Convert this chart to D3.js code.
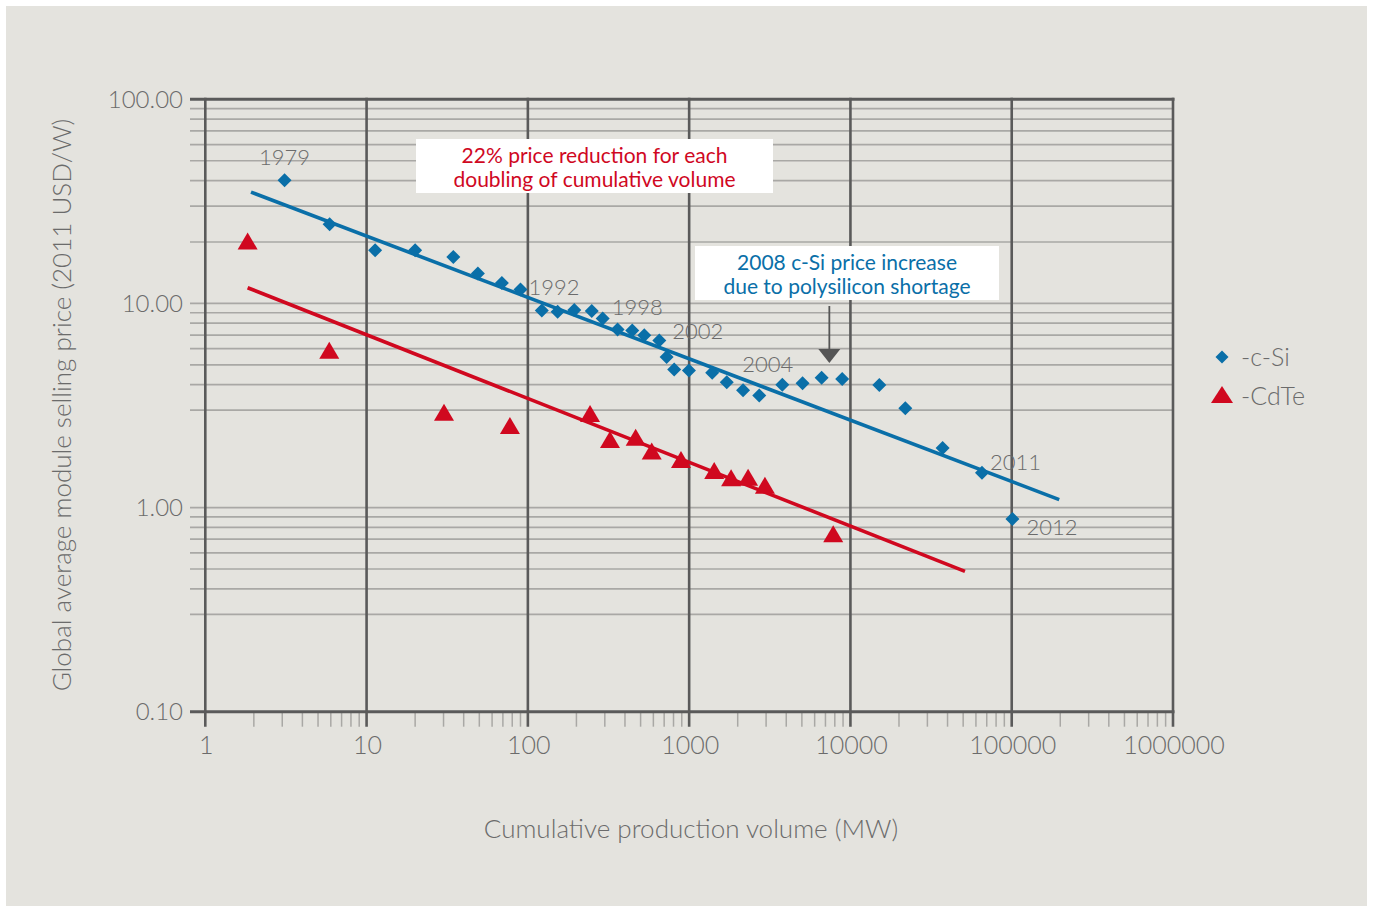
<!DOCTYPE html>
<html>
<head>
<meta charset="utf-8">
<script src="https://cdn.jsdelivr.net/npm/d3@7"></script>
<style>
  body { margin: 0; background: #fff; }
  text { font-family: Lato, "Open Sans", sans-serif; }
</style>
</head>
<body>
<div id="chart"></div>
<script>
// c-Si points: cumulative volume (MW), price (2011 USD/W)
var csiVolume = [3.1, 5.9, 11.3, 20, 34.5, 49, 69, 90, 122, 153, 194, 249, 291, 360, 444, 527, 653, 725, 808, 997,
  1390, 1710, 2160, 2720, 3780, 5050, 6630, 8890, 15100, 21900, 37300, 65400, 101000];
var csiPrice = [40.1, 24.4, 18.2, 18.2, 16.9, 14.0, 12.6, 11.7, 9.24, 9.1, 9.28, 9.17, 8.44, 7.46, 7.37, 6.99, 6.59, 5.46, 4.75, 4.69,
  4.57, 4.11, 3.76, 3.54, 4.0, 4.07, 4.32, 4.27, 3.98, 3.07, 1.96, 1.48, 0.88];

// CdTe points
var cdteVolume = [1.83, 5.87, 30.2, 77.4, 243, 323, 466, 586, 890, 1430, 1820, 2320, 2950, 7820];
var cdtePrice = [20.1, 5.87, 2.91, 2.51, 2.87, 2.14, 2.2, 1.88, 1.71, 1.51, 1.39, 1.4, 1.28, 0.74];

// fitted trend lines [start, end]
var csiTrendX = [1.92, 197000];
var csiTrendY = [35.1, 1.094];
var cdteTrendX = [1.83, 51300];
var cdteTrendY = [11.94, 0.487];

// year labels attached to c-Si points
var yearLabels = ["1979", "1992", "1998", "2002", "2004", "2011", "2012"];
var yearIndex = [0, 7, 12, 16, 24, 31, 32];

var yTickValues = [100, 10, 1, 0.1];
var yTickLabels = ["100.00", "10.00", "1.00", "0.10"];
var xTickValues = [1, 10, 100, 1000, 10000, 100000, 1000000];
var yMinorGrid = [20, 30, 40, 50, 60, 70, 80, 90, 10, 3, 4, 5, 6, 7, 8, 9, 1, 0.3, 0.4, 0.5, 0.6, 0.7, 0.8, 0.9];

var W = 1373, H = 908;
var blue = "#0a6fa8", red = "#d0081f", grey = "#6b6b6b", dark = "#5a5a5a", light = "#a9a8a5";

var svg = d3.select("#chart").append("svg")
  .attr("width", W).attr("height", H);

svg.append("rect").attr("width", W).attr("height", H).attr("fill", "#fff");
svg.append("rect").attr("x", 6).attr("y", 6).attr("width", 1361).attr("height", 900).attr("fill", "#e4e3de");

var x = d3.scaleLog().domain([1, 1e6]).range([205.3, 1173]);
var y = d3.scaleLog().domain([0.1, 100]).range([711.7, 99.3]);

// horizontal minor grid
svg.append("g").selectAll("line")
  .data(yMinorGrid).enter().append("line")
    .attr("x1", 190).attr("x2", x(1e6))
    .attr("y1", function(d) { return y(d); })
    .attr("y2", function(d) { return y(d); })
    .attr("stroke", light).attr("stroke-width", 1.7);

// minor x ticks
var xMinor = [];
for (var e = 0; e < 6; e++) {
  for (var k = 2; k <= 9; k++) xMinor.push(k * Math.pow(10, e));
}
svg.append("g").selectAll("line")
  .data(xMinor).enter().append("line")
    .attr("x1", function(d) { return x(d); })
    .attr("x2", function(d) { return x(d); })
    .attr("y1", y(0.1)).attr("y2", y(0.1) + 15)
    .attr("stroke", light).attr("stroke-width", 1.5);

// top border and x axis line
svg.append("g").selectAll("line")
  .data([100, 0.1]).enter().append("line")
    .attr("x1", 190).attr("x2", x(1e6) + 1.5)
    .attr("y1", function(d) { return y(d); })
    .attr("y2", function(d) { return y(d); })
    .attr("stroke", dark).attr("stroke-width", 3);

// vertical decade lines
svg.append("g").selectAll("line")
  .data(xTickValues).enter().append("line")
    .attr("x1", function(d) { return x(d); })
    .attr("x2", function(d) { return x(d); })
    .attr("y1", y(100) - 1.5).attr("y2", y(0.1) + 15)
    .attr("stroke", dark).attr("stroke-width", 2.6);

// y tick labels
svg.append("g").selectAll("text")
  .data(yTickValues).enter().append("text")
    .attr("x", 183)
    .attr("y", function(d) { return y(d) + 8.5; })
    .attr("text-anchor", "end")
    .attr("font-size", 24).attr("font-weight", 300)
    .attr("fill", grey)
    .text(function(d, i) { return yTickLabels[i]; });

// x tick labels
svg.append("g").selectAll("text")
  .data(xTickValues).enter().append("text")
    .attr("x", function(d) { return x(d) + 1; })
    .attr("y", 754)
    .attr("text-anchor", "middle")
    .attr("font-size", 25).attr("font-weight", 300)
    .attr("fill", grey)
    .text(function(d) { return d3.format("d")(d); });

// axis titles
svg.append("text")
  .attr("transform", "translate(71,405) rotate(-90)")
  .attr("text-anchor", "middle")
  .attr("font-size", 26).attr("font-weight", 300)
  .attr("fill", grey)
  .text("Global average module selling price (2011 USD/W)");

svg.append("text")
  .attr("x", 691).attr("y", 838)
  .attr("text-anchor", "middle")
  .attr("font-size", 26).attr("font-weight", 300)
  .attr("fill", grey)
  .text("Cumulative production volume (MW)");

// trend lines
var line = d3.line()
  .x(function(d) { return x(d[0]); })
  .y(function(d) { return y(d[1]); });

svg.append("path")
  .attr("d", line(d3.zip(csiTrendX, csiTrendY)))
  .attr("stroke", blue).attr("stroke-width", 3.6).attr("fill", "none");
svg.append("path")
  .attr("d", line(d3.zip(cdteTrendX, cdteTrendY)))
  .attr("stroke", red).attr("stroke-width", 3.6).attr("fill", "none");

// points
var diamond = "M0,-7L7,0L0,7L-7,0Z";
var triangle = "M0,-9L10,8L-10,8Z";

svg.append("g").selectAll("path")
  .data(d3.zip(csiVolume, csiPrice)).enter().append("path")
    .attr("d", diamond)
    .attr("transform", function(d) { return "translate(" + x(d[0]) + "," + y(d[1]) + ")"; })
    .attr("fill", blue);

svg.append("g").selectAll("path")
  .data(d3.zip(cdteVolume, cdtePrice)).enter().append("path")
    .attr("d", triangle)
    .attr("transform", function(d) { return "translate(" + x(d[0]) + "," + y(d[1]) + ")"; })
    .attr("fill", red);

// year labels
var labelDx = [0, 8, 9, 13, -40, 8, 14];
var labelDy = [-15, 5, -3, -1, -13, -3, 16];
var labelAnchor = ["middle", "start", "start", "start", "start", "start", "start"];
svg.append("g").selectAll("text")
  .data(yearLabels).enter().append("text")
    .attr("x", function(d, i) { return x(csiVolume[yearIndex[i]]) + labelDx[i]; })
    .attr("y", function(d, i) { return y(csiPrice[yearIndex[i]]) + labelDy[i]; })
    .attr("text-anchor", function(d, i) { return labelAnchor[i]; })
    .attr("font-size", 22).attr("font-weight", 300)
    .attr("fill", grey)
    .text(function(d) { return d; });

// annotation boxes
function note(x0, y0, w, h, lines, color) {
  svg.append("rect").attr("x", x0).attr("y", y0).attr("width", w).attr("height", h).attr("fill", "#fff");
  svg.append("g").selectAll("text")
    .data(lines).enter().append("text")
      .attr("x", x0 + w / 2)
      .attr("y", function(d, i) { return y0 + 24 + i * 24; })
      .attr("text-anchor", "middle")
      .attr("font-size", 21)
      .attr("fill", color)
      .text(function(d) { return d; });
}
note(416, 139, 357, 54, ["22% price reduction for each", "doubling of cumulative volume"], red);
note(695, 246, 304, 54, ["2008 c-Si price increase", "due to polysilicon shortage"], blue);

// arrow to 2008 price increase
var arrowX = x(7400);
svg.append("line")
  .attr("x1", arrowX).attr("x2", arrowX)
  .attr("y1", 306).attr("y2", 352)
  .attr("stroke", "#555").attr("stroke-width", 1.8);
svg.append("path")
  .attr("d", "M" + (arrowX - 11) + ",349L" + (arrowX + 11) + ",349L" + arrowX + ",363Z")
  .attr("fill", "#555");

// legend
var legend = svg.append("g").attr("transform", "translate(1222,0)");
legend.append("path").attr("d", "M0,-6.5L6.5,0L0,6.5L-6.5,0Z")
  .attr("transform", "translate(0,357)").attr("fill", blue);
legend.append("path").attr("d", "M0,-9L11,8L-11,8Z")
  .attr("transform", "translate(0,395)").attr("fill", red);
legend.append("text").attr("x", 19).attr("y", 366)
  .attr("font-size", 25).attr("font-weight", 300).attr("fill", grey).text("-c-Si");
legend.append("text").attr("x", 19).attr("y", 405)
  .attr("font-size", 25).attr("font-weight", 300).attr("fill", grey).text("-CdTe");
</script>
</body>
</html>
